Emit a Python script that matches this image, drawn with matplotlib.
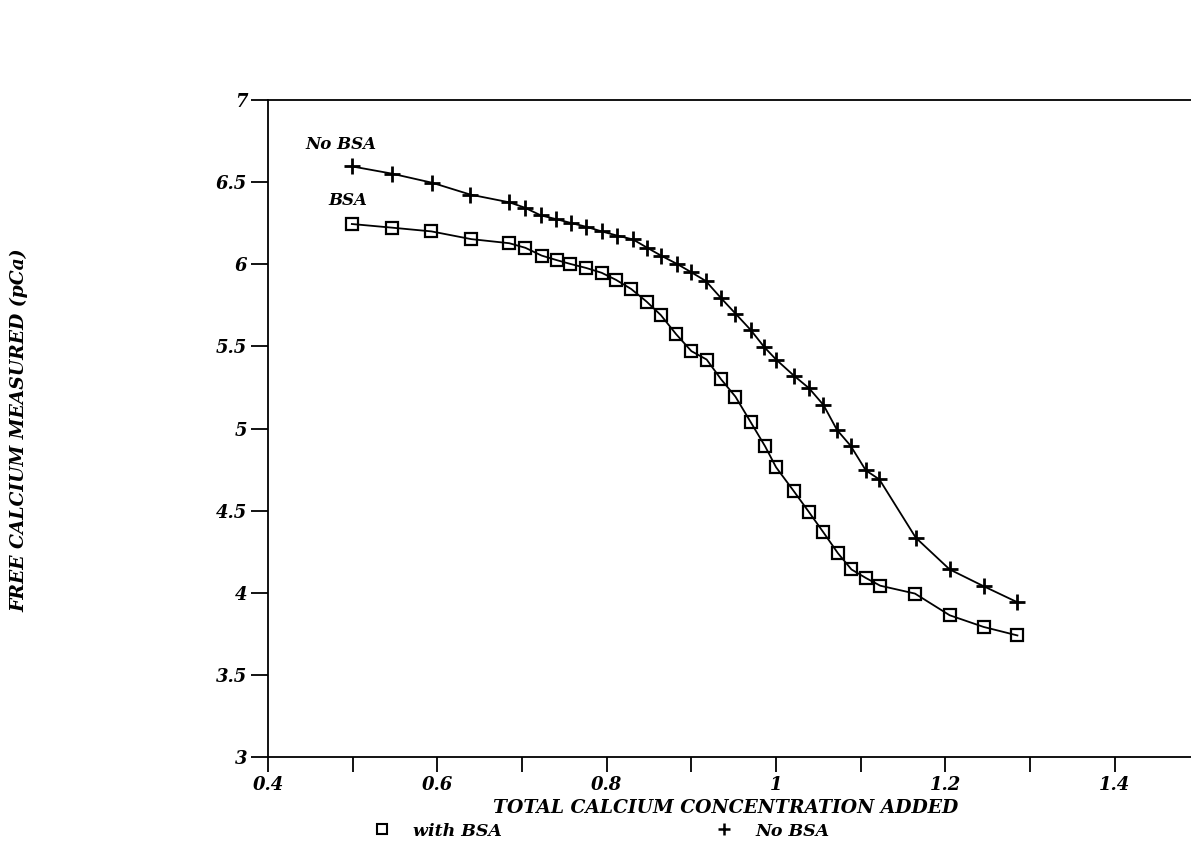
import matplotlib
matplotlib.use("Agg")
import matplotlib.pyplot as plt
from matplotlib.lines import Line2D

# Total calcium added (x) and free calcium measured, pCa (y)
bsa_x = [0.499, 0.546, 0.593, 0.640, 0.685, 0.704, 0.723, 0.741, 0.757, 0.776,
         0.794, 0.811, 0.829, 0.847, 0.864, 0.882, 0.900, 0.918, 0.935, 0.952,
         0.970, 0.987, 1.000, 1.021, 1.039, 1.056, 1.073, 1.089, 1.106, 1.123,
         1.164, 1.205, 1.245, 1.285]
bsa_y = [6.245, 6.223, 6.200, 6.153, 6.128, 6.100, 6.053, 6.025, 6.002, 5.977,
         5.948, 5.905, 5.849, 5.773, 5.690, 5.574, 5.471, 5.420, 5.300, 5.194,
         5.039, 4.892, 4.764, 4.618, 4.490, 4.367, 4.241, 4.142, 4.090, 4.043,
         3.995, 3.863, 3.792, 3.740]

nobsa_x = [0.499, 0.546, 0.594, 0.639, 0.685, 0.703, 0.722, 0.740, 0.758, 0.776,
           0.794, 0.812, 0.831, 0.848, 0.864, 0.883, 0.899, 0.917, 0.935, 0.952,
           0.970, 0.986, 1.000, 1.021, 1.039, 1.056, 1.072, 1.088, 1.106, 1.122,
           1.165, 1.205, 1.245, 1.285]
nobsa_y = [6.596, 6.552, 6.496, 6.424, 6.377, 6.345, 6.298, 6.275, 6.251, 6.228,
           6.200, 6.175, 6.151, 6.100, 6.053, 6.002, 5.954, 5.898, 5.794, 5.700,
           5.600, 5.496, 5.420, 5.322, 5.245, 5.143, 4.991, 4.895, 4.745, 4.690,
           4.335, 4.142, 4.040, 3.942]

x_ticks = [0.4, 0.5, 0.6, 0.7, 0.8, 0.9, 1.0, 1.1, 1.2, 1.3, 1.4]
x_labels = ["0.4", "", "0.6", "", "0.8", "", "1", "", "1.2", "", "1.4"]
y_ticks = [3, 3.5, 4, 4.5, 5, 5.5, 6, 6.5, 7]
y_labels = ["3", "3.5", "4", "4.5", "5", "5.5", "6", "6.5", "7"]

font = dict(family="DejaVu Serif", weight="bold", style="italic")

W, H = 1191, 848
fig = plt.figure(figsize=(W / 100, H / 100), dpi=100)
# axes box in pixels: left 268, top 100, bottom 757, running off the right edge
ax = fig.add_axes([268 / W, 1 - 757 / H, (W - 268) / W, (757 - 100) / H])

ax.plot(bsa_x, bsa_y, color="black", linewidth=1.3, marker="s", markersize=8.5,
        markerfacecolor="none", markeredgewidth=1.6, markeredgecolor="black")
ax.plot(nobsa_x, nobsa_y, color="black", linewidth=1.3, marker="+", markersize=11,
        markeredgewidth=2.0)

ax.text(0.444, 6.73, "No BSA", fontsize=12, va="center", ha="left", **font)
ax.text(0.471, 6.39, "BSA", fontsize=12, va="center", ha="left", **font)

ax.set_xlim(0.4, 1.49)
ax.set_ylim(3, 7)
ax.set_xticks(x_ticks)
ax.set_xticklabels(x_labels, **font, fontsize=13)
ax.set_yticks(y_ticks)
ax.set_yticklabels(y_labels, **font, fontsize=13)
ax.tick_params(axis="x", direction="out", length=11, width=1.3, pad=3)
ax.tick_params(axis="y", direction="out", length=12, width=1.3, pad=3)

for side in ["left", "bottom", "top"]:
    ax.spines[side].set_linewidth(1.3)
ax.spines["right"].set_visible(False)

fig.text(726 / W, 1 - 808 / H, "TOTAL CALCIUM CONCENTRATION ADDED",
         ha="center", va="center", fontsize=13.5, **font)
fig.text(19 / W, 1 - 430 / H, "FREE CALCIUM MEASURED (pCa)",
         ha="center", va="center", rotation=90, fontsize=13.5, **font)

# legend under the x title
handles = [
    Line2D([], [], linestyle="none", marker="s", markersize=7, markerfacecolor="none",
           markeredgecolor="black", markeredgewidth=1.5),
    Line2D([], [], linestyle="none", marker="+", markersize=9, markeredgecolor="black",
           markeredgewidth=1.8),
]
fig.legend(handles, ["with BSA", "No BSA"], loc="center left",
           bbox_to_anchor=(373 / W, 1 - 831 / H), ncol=2, frameon=False,
           handlelength=1.0, handletextpad=1.3, columnspacing=12.3,
           borderaxespad=0, borderpad=0,
           prop=dict(family="DejaVu Serif", weight="bold", style="italic", size=12.5))

fig.savefig("out.png", dpi=100)
plt.close(fig)
